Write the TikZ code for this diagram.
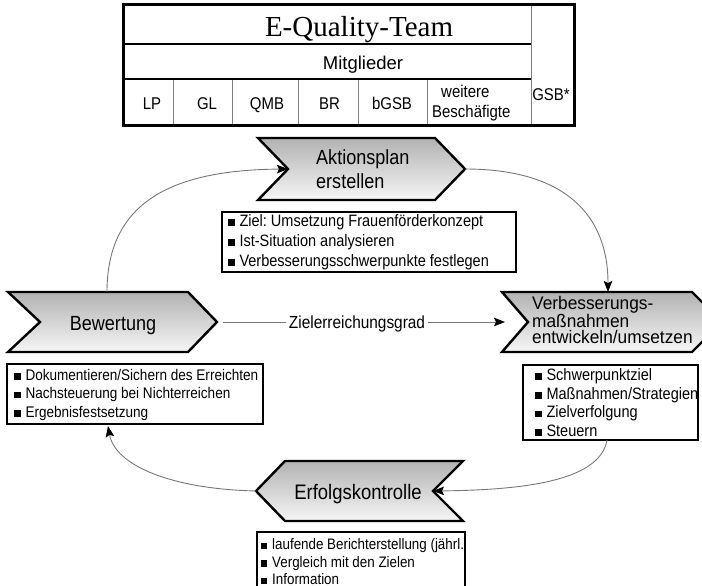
\documentclass[tikz,border=0pt]{standalone}
\usepackage{fontspec}
\setmainfont{Liberation Sans}
\newfontfamily\ttlfont{Liberation Serif}
\newfontfamily\cnd[FakeStretch=0.88]{Liberation Sans}
\newfontfamily\cndv[FakeStretch=0.95]{Liberation Sans}
\usetikzlibrary{arrows.meta}
\frenchspacing
\newcommand\bsq{\raisebox{0.6pt}{\rule{6.5pt}{6.5pt}}\hspace{5pt}}
\definecolor{chevtop}{RGB}{178,178,178}
\definecolor{chevbot}{RGB}{246,246,246}
\definecolor{lingray}{RGB}{120,120,120}
\tikzset{
  chev/.style={draw=black, line width=2.4pt, line join=miter, top color=chevtop, bottom color=chevbot},
  bbox/.style={draw=black, line width=2.4pt, fill=white, inner sep=0pt, minimum height=60pt},
  btext/.style={anchor=west, align=left, inner sep=0pt, font=\cnd\fontsize{16.5}{18.6}\selectfont},
  conn/.style={draw=lingray, line width=0.9pt, -{Stealth[length=11pt,width=8.5pt,inset=2pt,black]}},
  cell/.style={anchor=base, inner sep=0pt, font=\cnd\fontsize{17}{21}\selectfont},
  chevtext/.style={inner sep=0pt, font=\cnd\fontsize{20.5}{24}\selectfont},
  tabthick/.style={draw=black, line width=2.6pt},
  tabthin/.style={draw=gray, line width=0.8pt}
}
\begin{document}
\begin{tikzpicture}[x=1pt,y=-1pt]
\clip (0,0) rectangle (702,586);
\fill[white] (0,0) rectangle (702,586);

% ---------- table ----------
\draw[tabthin] (531,5) -- (531,125);
\foreach \xx in {173,232,298,358,427} \draw[tabthin] (\xx,79) -- (\xx,125);
\draw[tabthick] (123,44) -- (531,44);
\draw[tabthick] (123,79) -- (531,79);
\draw[draw=black, line width=3pt] (123,5) rectangle (574,125);
\node[anchor=base, inner sep=0pt, font=\ttlfont\fontsize{29}{32}\selectfont] (title) at (359,37) {E-Quality-Team};
\node[anchor=base, inner sep=0pt, font=\fontsize{18.5}{22}\selectfont] (mitg) at (363,70) {Mitglieder};
\node[cell] (lp) at (152,110) {LP};
\node[cell] (gl) at (207,110) {GL};
\node[cell] (qmb) at (267,110) {QMB};
\node[cell] (br) at (329.5,110) {BR};
\node[cell] (bgsb) at (392,110) {bGSB};
\node[anchor=north west, inner sep=0pt, align=left, font=\cnd\fontsize{17}{20.5}\selectfont] (weit) at (432,84.5) {\hspace{9pt}weitere\\Beschäfigte};
\node[cell] (gsb) at (551,101) {GSB*};

% ---------- chevrons ----------
% Aktionsplan
\draw[chev] (258,138) -- (435,138) -- (465,169) -- (435,200) -- (258,200) -- (288,169) -- cycle;
\coordinate (apnotch) at (288,169);
\coordinate (aptip) at (465,169);
\node[chevtext, anchor=west, align=left] (ap) at (316,169) {Aktionsplan\\erstellen};

% Bewertung
\draw[chev] (8,292) -- (188,292) -- (217,322) -- (188,352) -- (8,352) -- (40,322) -- cycle;
\coordinate (bwtip) at (217,322);
\coordinate (bwtop) at (107,292);
\node[chevtext, anchor=base] (bw) at (113,330) {Bewertung};

% Verbesserung
\draw[chev] (502,292) -- (692,292) -- (722,322) -- (692,352) -- (502,352) -- (528,322) -- cycle;
\coordinate (vnotch) at (528,322);
\coordinate (vtop) at (608,292);
\node[inner sep=0pt, anchor=west, align=left, font=\cndv\fontsize{18.2}{16}\selectfont] (vb) at (532,320) {Verbesserungs-\\maßnahmen\\entwickeln/umsetzen};

% Erfolgskontrolle
\draw[chev] (256,491) -- (285,461) -- (463,461) -- (433,491) -- (463,521) -- (285,521) -- cycle;
\coordinate (enotch) at (433,491);
\coordinate (etip) at (256,491);
\node[chevtext, anchor=base, font=\cnd\fontsize{21}{24}\selectfont] (ek) at (358,499) {Erfolgskontrolle};

% ---------- bullet boxes ----------
\node[bbox, minimum width=294pt] (apbox) at (369,242) {};
\node[btext, font=\cnd\fontsize{16.5}{20}\selectfont] (aptxt) at ([xshift=7pt]apbox.west)
  {\bsq Ziel: Umsetzung Frauenförderkonzept\\\bsq Ist-Situation analysieren\\\bsq Verbesserungsschwerpunkte festlegen};
\node[bbox, minimum width=256pt] (bwbox) at (135,394) {};
\node[btext, font=\cnd\fontsize{15.4}{18.6}\selectfont] (bwtxt) at ([xshift=8pt,yshift=-1pt]bwbox.west)
  {\bsq Dokumentieren/Sichern des Erreichten\\\bsq Nachsteuerung bei Nichterreichen\\\bsq Ergebnisfestsetzung};
\node[bbox, minimum width=175pt, minimum height=75pt] (vbox) at (610.5,402.5) {};
\node[btext] (vtxt) at ([xshift=13pt]vbox.west)
  {\bsq Schwerpunktziel\\\bsq Maßnahmen/Strategien\\\bsq Zielverfolgung\\\bsq Steuern};
\node[bbox, minimum width=208pt, minimum height=64pt] (ekbox) at (361,564) {};
\node[btext, font=\cnd\fontsize{15.2}{17.5}\selectfont] (ektxt) at (260.5,562)
  {\bsq laufende Berichterstellung (jährl.\\\bsq Vergleich mit den Zielen\\\bsq Information};
\coordinate (vbot) at (607,440);
\coordinate (bbot) at (108,426);

% ---------- connectors ----------
\node[inner xsep=3pt, inner ysep=0pt, anchor=base, font=\cnd\fontsize{17.5}{20}\selectfont] (zg) at (357,328.5) {Zielerreichungsgrad};
\draw[draw=lingray, line width=0.9pt, shorten <=6pt] (bwtip) -- (bwtip -| zg.west);
\draw[conn, shorten >=23pt] (bwtip -| zg.east) -- (vnotch);

\draw[conn] (bwtop) .. controls (107,200) and (175,170) .. (apnotch);
\draw[conn] (aptip) .. controls (565,169) and (608,215) .. (vtop);
\draw[conn] (vbot) .. controls (600,482) and (520,490) .. (enotch);
\draw[conn] (etip) .. controls (170,489) and (115,465) .. (bbot);
\end{tikzpicture}
\end{document}
